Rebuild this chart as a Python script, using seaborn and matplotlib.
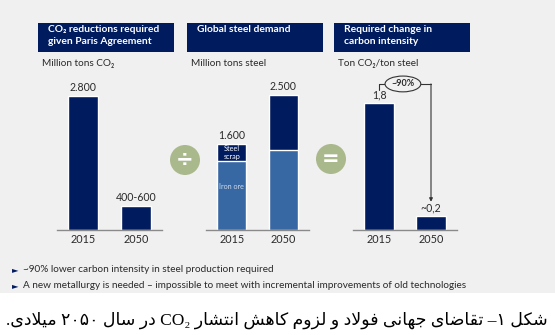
import matplotlib
matplotlib.use("Agg")
import matplotlib.pyplot as plt
import seaborn as sns
from matplotlib.patches import Rectangle, Circle

# ---------------------------------------------------------------- data
years = ["2015", "2050"]

co2_reduction = [2800, 500]            # million tons CO2 (2050: 400-600)
co2_labels = ["2.800", "400-600"]

steel_total = [1600, 2500]             # million tons steel
steel_iron_ore = [1270, 1480]
steel_labels = ["1.600", "2.500"]

carbon_intensity = [1.8, 0.2]          # ton CO2 / ton steel
intensity_labels = ["1,8", "~0,2"]
reduction_label = "~90%"

panel_titles = [
    "CO\u2082 reductions required\ngiven Paris Agreement",
    "Global steel demand",
    "Required change in\ncarbon intensity",
]
panel_units = ["Million tons CO\u2082", "Million tons steel", "Ton CO\u2082/ton steel"]
bullets = [
    "~90% lower carbon intensity in steel production required",
    "A new metallurgy is needed \u2013 impossible to meet with incremental improvements of old technologies",
]
caption = "شکل ۱– تقاضای جهانی فولاد و لزوم کاهش انتشار CO\u2082 در سال ۲۰۵۰ میلادی."

# ---------------------------------------------------------------- style
NAVY = "#001b5e"
ORE = "#3768a3"
BG = "#f0f0f0"
GREEN = "#a9b98c"
TEXT = "#2a2a2a"
AXIS = "#8a8a8a"
SANS = ["Lato", "DejaVu Sans"]

sns.set_theme(style="white")
plt.rcParams["font.family"] = SANS

# ---------------------------------------------------------------- Persian shaping
# presentation forms: isolated, final, initial, medial
FORMS = {
    "\u0627": ("\ufe8d", "\ufe8e"),
    "\u062a": ("\ufe95", "\ufe96", "\ufe97", "\ufe98"),
    "\u062c": ("\ufe9d", "\ufe9e", "\ufe9f", "\ufea0"),
    "\u062f": ("\ufea9", "\ufeaa"),
    "\u0631": ("\ufead", "\ufeae"),
    "\u0632": ("\ufeaf", "\ufeb0"),
    "\u0633": ("\ufeb1", "\ufeb2", "\ufeb3", "\ufeb4"),
    "\u0634": ("\ufeb5", "\ufeb6", "\ufeb7", "\ufeb8"),
    "\u0636": ("\ufebd", "\ufebe", "\ufebf", "\ufec0"),
    "\u0641": ("\ufed1", "\ufed2", "\ufed3", "\ufed4"),
    "\u0642": ("\ufed5", "\ufed6", "\ufed7", "\ufed8"),
    "\u0644": ("\ufedd", "\ufede", "\ufedf", "\ufee0"),
    "\u0645": ("\ufee1", "\ufee2", "\ufee3", "\ufee4"),
    "\u0646": ("\ufee5", "\ufee6", "\ufee7", "\ufee8"),
    "\u0647": ("\ufee9", "\ufeea", "\ufeeb", "\ufeec"),
    "\u0648": ("\ufeed", "\ufeee"),
    "\u06a9": ("\ufb8e", "\ufb8f", "\ufb90", "\ufb91"),
    "\u06cc": ("\ufbfc", "\ufbfd", "\ufbfe", "\ufbff"),
}
LAM_ALEF = ("\ufefb", "\ufefc")


def shape_word(word):
    word = word.replace("\u0643", "\u06a9").replace("\u064a", "\u06cc")
    units, i = [], 0
    while i < len(word):
        if word[i] == "\u0644" and i + 1 < len(word) and word[i + 1] == "\u0627":
            units.append("LA")
            i += 2
        else:
            units.append(word[i])
            i += 1

    def is_letter(u):
        return u == "LA" or u in FORMS

    def joins_next(u):
        return u in FORMS and len(FORMS[u]) == 4

    out = []
    for k, u in enumerate(units):
        if not is_letter(u):
            out.append(u)
            continue
        prev = k > 0 and joins_next(units[k - 1])
        if u == "LA":
            out.append(LAM_ALEF[1] if prev else LAM_ALEF[0])
            continue
        f = FORMS[u]
        nxt = len(f) == 4 and k + 1 < len(units) and is_letter(units[k + 1])
        out.append(f[3] if prev and nxt else f[1] if prev else f[2] if nxt else f[0])
    return "".join(out)


def rtl_visual(text):
    words = []
    for w in reversed(text.split(" ")):
        keep = any(c.isascii() and c.isalpha() for c in w) or all(c.isdigit() for c in w)
        words.append(w if keep else shape_word(w)[::-1])
    return " ".join(words)


# ---------------------------------------------------------------- figure
W, H = 555, 335
fig = plt.figure(figsize=(W / 100, H / 100), dpi=100)
fig.patch.set_facecolor("white")

canvas = fig.add_axes([0, 0, 1, 1], zorder=-1)
canvas.set_xlim(0, W)
canvas.set_ylim(H, 0)
canvas.axis("off")
canvas.add_patch(Rectangle((0, 0), W, 293, color=BG, lw=0))


def px_axes(x0, x1, top=80, bottom=230):
    ax = fig.add_axes([x0 / W, (H - bottom) / H, (x1 - x0) / W, (bottom - top) / H])
    ax.set_facecolor("none")
    return ax


def style_axes(ax, ymax):
    ax.set_xlim(-0.5, 1.5)
    ax.set_ylim(0, ymax)
    ax.set_xlabel("")
    ax.set_ylabel("")
    ax.set_yticks([])
    sns.despine(ax=ax, left=True)
    ax.spines["bottom"].set_color(AXIS)
    ax.spines["bottom"].set_linewidth(1.0)
    ax.tick_params(axis="x", length=0, pad=3, labelsize=7.8, labelcolor=TEXT)


BAR_W = 0.57
LABEL_FS = 7.6

# panel 1: CO2 reductions
ax1 = px_axes(57, 162)
sns.barplot(x=years, y=co2_reduction, color=NAVY, saturation=1, width=BAR_W, ax=ax1)
style_axes(ax1, 3135)
ax1.bar_label(ax1.containers[0], labels=co2_labels, padding=2, fontsize=LABEL_FS, color=TEXT)

# panel 2: steel demand, stacked (scrap on top of iron ore)
ax2 = px_axes(206, 309)
sns.barplot(x=years, y=steel_total, color=NAVY, saturation=1, width=BAR_W, ax=ax2)
sns.barplot(x=years, y=steel_iron_ore, color=ORE, saturation=1, width=BAR_W, ax=ax2)
style_axes(ax2, 2780)
ax2.bar_label(ax2.containers[0], labels=steel_labels, padding=2, fontsize=LABEL_FS, color=TEXT)
ax2.text(0, (steel_total[0] + steel_iron_ore[0]) / 2, "Steel\nscrap", ha="center", va="center",
         fontsize=5.2, color="white", linespacing=1.05)
ax2.text(0, steel_iron_ore[0] * 0.63, "Iron ore", ha="center", va="center",
         fontsize=5.2, color="#cdd9ea")

# panel 3: carbon intensity
ax3 = px_axes(353, 457)
sns.barplot(x=years, y=carbon_intensity, color=NAVY, saturation=1, width=BAR_W, ax=ax3)
style_axes(ax3, 2.126)
ax3.bar_label(ax3.containers[0], labels=intensity_labels, padding=2, fontsize=LABEL_FS, color=TEXT)

# reduction bracket from 2015 to 2050
yb = 2.07
ax3.plot([0, 0], [1.98, yb], color="#333333", lw=0.8, clip_on=False)
ax3.plot([0, 1], [yb, yb], color="#333333", lw=0.8, clip_on=False)
ax3.annotate("", xy=(1, carbon_intensity[1] + 0.2), xytext=(1, yb),
             arrowprops=dict(arrowstyle="-|>", color="#333333", lw=0.8,
                             mutation_scale=5, shrinkA=0, shrinkB=0),
             annotation_clip=False)
ax3.text(0.46, yb, reduction_label, ha="center", va="center", fontsize=6.5,
         fontweight="bold", color=TEXT, zorder=5, clip_on=False,
         bbox=dict(boxstyle="ellipse,pad=0.12", fc=BG, ec="#333333", lw=0.8))

# header boxes and units
box_x = [38, 187, 334]
for x0, title, unit in zip(box_x, panel_titles, panel_units):
    canvas.add_patch(Rectangle((x0, 23), 136, 29, color=NAVY, lw=0))
    canvas.text(x0 + 10, 25.5, title, ha="left", va="top", fontsize=7.4,
                fontweight="bold", color="white", linespacing=1.3)
    canvas.text(x0 + 4, 63, unit, ha="left", va="center", fontsize=7.2, color=TEXT)

# operator circles
for cx, cy, sym in [(185, 160, "\u00f7"), (331, 159, "=")]:
    canvas.add_patch(Circle((cx, cy), 15, color=GREEN, lw=0))
    canvas.text(cx, cy, sym, ha="center", va="center", fontsize=15,
                color="white", fontweight="bold", family=["DejaVu Sans"])

# bullet notes
for yy, note in zip([270, 286], bullets):
    canvas.text(12, yy, "\u25ba", ha="left", va="center", fontsize=6, color=NAVY,
                family=["DejaVu Sans"])
    canvas.text(23, yy, note, ha="left", va="center", fontsize=7.2, color=TEXT)

# Persian caption, scaled to span the page width
cap = canvas.text(548, 320, rtl_visual(caption), ha="right", va="center",
                  fontsize=12, color="black", family=["Liberation Serif", "DejaVu Sans"])
fig.canvas.draw()
width = cap.get_window_extent().width
cap.set_fontsize(12 * 540 / width)

fig.savefig("out.png", dpi=100, facecolor=fig.get_facecolor())
